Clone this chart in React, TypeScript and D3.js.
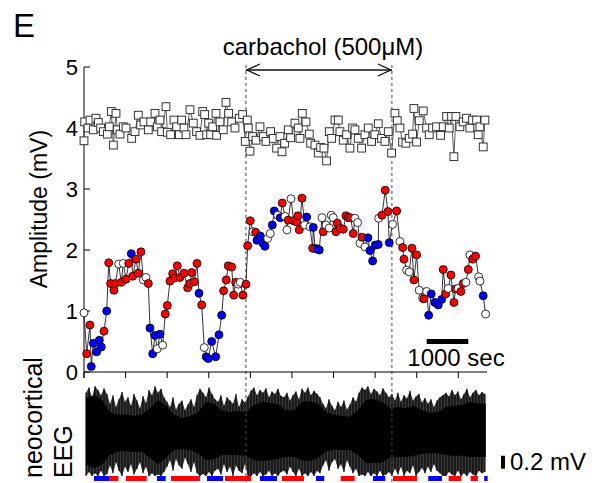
import React from "react";
import * as d3 from "d3";

// ---- Data ----
const circleT = [0,65,144,175,224,305,368,416,481,546,594,642,721,752,834,897,945,1010,1075,1137,1171,1250,1305,1370,1426,1490,1546,1587,1652,1707,1762,1827,1892,1954,2003,2067,2132,2180,2243,2308,2404,2493,2541,2589,2652,2717,2765,2830,2892,2940,2988,3070,3166,3245,3310,3358,3421,3469,3551,3599,3647,3709,3757,3822,3894,3935,3998,4063,4128,4159,4238,4303,4351,4416,4479,4527,4575,4657,4719,4767,4832,4880,4911,4976,5041,5113,5145,5176,5241,5306,5354,5433,5498,5513,5561,5609,5657,5722,5753,5818,5897,5945,5993,6058,6089,6154,6234,6298,6354,6411,6474,6515,6580,6635,6683,6755,6827,6875,6940,7003,7075,7085,7164,7243,7308,7340,7421,7517,7597,7662,7693,7758,7820,7885,7933,7998,8060,8142,8174,8239,8287,8349,8438,8518,8599,8638,8696,8758,8823,8895,8936,8998,9063,9118,9183,9239,9279,9344,9416,9488,9520,9599,9657];
const circleV = [0.97,0.30,0.77,0.09,0.47,0.33,0.52,0.41,0.67,1.00,1.79,1.45,1.34,1.45,1.77,1.47,1.78,1.52,1.78,1.94,1.57,1.85,1.62,1.97,1.51,1.55,1.45,0.72,0.30,0.60,0.38,0.62,0.44,0.95,1.09,1.49,1.61,1.54,1.74,1.55,1.62,1.38,1.45,1.63,1.48,1.78,1.29,1.10,0.40,0.25,0.22,0.50,0.25,0.61,0.93,1.33,1.51,1.74,1.72,1.26,1.47,1.44,1.47,1.26,1.44,2.07,2.48,2.30,2.29,2.16,2.23,2.11,2.06,2.19,2.27,2.41,2.64,2.57,2.53,2.77,2.55,2.33,2.49,2.84,2.48,2.46,2.56,2.33,2.85,2.41,2.54,2.38,2.03,2.37,2.02,2.02,2.00,2.53,2.30,2.41,2.36,2.57,2.53,2.30,2.44,2.36,2.34,2.56,2.53,2.53,2.27,2.52,2.45,2.11,2.21,2.05,2.20,1.99,1.82,2.08,2.09,2.52,2.57,2.98,2.63,2.12,2.42,2.64,2.14,2.04,1.85,1.67,1.64,2.03,1.51,1.92,1.34,1.21,1.20,1.32,0.93,1.28,1.14,1.10,1.19,1.68,1.28,1.37,1.59,1.14,1.36,1.37,1.32,1.45,1.47,1.68,1.92,1.85,1.90,1.56,1.49,1.25,0.95];
const circleState = "wrrbbbbbrbrrrrwrwrrbrrrrwwrbbbwbwrrrrrrrrrrrrrbrwbbbbbbrrrrrrwwrrrrwrbbbbwwbbwbrwwrwrrrrrwbwrbrbbwrwwwwrrrrrrrrwwwrwbbbbbwrrrbwrwrrwwrrrwwrwbbbbbrrwrrrwrrwrwrrwwbw";

const squareT = [0,16,96,144,224,288,345,401,465,561,609,657,705,769,801,865,946,1010,1146,1226,1306,1362,1442,1547,1603,1707,1763,1827,1867,1971,2003,2083,2164,2228,2292,2348,2404,2452,2548,2628,2708,2789,2853,2901,2949,2997,3045,3093,3173,3189,3269,3349,3414,3478,3550,3630,3734,3814,3878,3926,3950,3990,4055,4135,4231,4311,4375,4487,4551,4632,4712,4760,4824,4912,4968,5072,5152,5192,5249,5337,5417,5449,5553,5633,5689,5769,5833,5898,5954,6034,6114,6154,6234,6314,6394,6458,6515,6595,6675,6755,6835,6915,6995,7075,7155,7236,7316,7396,7476,7532,7596,7660,7740,7821,7901,7933,7997,8061,8157,8237,8301,8381,8477,8574,8638,8718,8782,8838,8894,8942,9038,9118,9198,9278,9342,9439,9479,9519,9599,9639];
const squareV = [3.79,4.10,4.00,4.13,3.97,4.16,4.09,4.00,3.94,3.90,4.02,4.27,3.72,4.24,3.97,3.90,4.02,4.00,3.83,3.94,4.21,4.05,4.10,3.97,4.10,4.24,4.02,4.13,3.94,4.35,3.93,3.89,4.13,4.02,3.89,4.13,4.00,3.89,4.30,4.08,3.94,3.88,4.27,4.22,3.89,4.08,3.89,4.02,4.24,3.88,4.10,3.97,4.42,4.24,4.10,4.00,4.16,4.22,3.78,4.13,4.00,3.62,3.86,3.80,4.02,3.86,3.78,3.94,3.83,3.67,3.86,3.61,3.75,3.97,3.84,4.08,4.00,3.83,4.24,4.10,3.90,3.75,3.72,3.59,3.68,3.67,3.46,3.94,3.83,4.13,4.13,3.94,3.80,3.89,3.67,4.00,3.97,3.83,3.67,3.89,4.00,3.78,3.89,4.07,3.83,3.78,3.94,3.59,4.24,4.12,4.00,3.77,3.75,3.83,3.90,4.32,3.77,4.12,4.28,4.00,3.89,4.00,4.02,3.88,4.02,4.19,4.00,4.19,3.53,4.19,4.02,4.10,4.16,4.00,4.13,4.13,3.89,4.02,3.69,4.13];

// EEG dense core envelope (mV relative to baseline)
const eegT = [50,240,430,620,820,1010,1200,1390,1590,1780,1970,2160,2360,2550,2740,2930,3130,3320,3510,3700,3890,4090,4280,4470,4660,4860,5050,5240,5430,5630,5820,6010,6200,6400,6590,6780,6970,7160,7360,7550,7740,7930,8130,8320,8510,8700,8900,9090,9280,9470,9660];
const eegCoreHi = [0.54,0.58,0.51,0.32,0.28,0.29,0.26,0.29,0.38,0.51,0.42,0.28,0.23,0.26,0.32,0.48,0.45,0.35,0.32,0.34,0.32,0.43,0.48,0.46,0.45,0.35,0.35,0.48,0.49,0.45,0.32,0.28,0.26,0.25,0.35,0.51,0.52,0.48,0.38,0.40,0.38,0.42,0.35,0.31,0.32,0.40,0.42,0.43,0.48,0.45,0.45];
const eegCoreLo = [-0.49,-0.54,-0.49,-0.34,-0.29,-0.28,-0.29,-0.29,-0.38,-0.48,-0.38,-0.26,-0.25,-0.26,-0.31,-0.42,-0.40,-0.34,-0.34,-0.34,-0.35,-0.42,-0.43,-0.42,-0.40,-0.37,-0.37,-0.42,-0.43,-0.38,-0.28,-0.26,-0.26,-0.26,-0.34,-0.46,-0.46,-0.45,-0.38,-0.37,-0.37,-0.35,-0.32,-0.31,-0.31,-0.34,-0.35,-0.35,-0.37,-0.37,-0.37];

// EEG spike extents (mV)
const spikeT = [48,120,192,264,337,409,481,553,625,697,769,841,914,986,1058,1130,1202,1274,1346,1418,1491,1563,1635,1707,1779,1851,1923,1995,2068,2140,2212,2284,2356,2428,2500,2572,2645,2717,2789,2861,2933,3005,3077,3149,3222,3294,3366,3438,3510,3582,3654,3726,3799,3871,3943,4015,4087,4159,4231,4303,4376,4448,4520,4592,4664,4736,4808,4880,4953,5025,5097,5169,5241,5313,5385,5457,5530,5602,5674,5746,5818,5890,5962,6034,6107,6179,6251,6323,6395,6467,6539,6611,6684,6756,6828,6900,6972,7044,7116,7188,7261,7333,7405,7477,7549,7621,7693,7765,7838,7910,7982,8054,8126,8198,8270,8342,8415,8487,8559,8631,8703,8775,8847,8919,8992,9064,9136,9208,9280,9352,9424,9496,9569,9641];
const spikeHi = [0.62,0.70,0.55,0.72,0.66,0.58,0.69,0.60,0.45,0.58,0.40,0.52,0.63,0.48,0.55,0.42,0.60,0.50,0.38,0.57,0.46,0.66,0.58,0.72,0.62,0.68,0.55,0.48,0.40,0.55,0.36,0.45,0.50,0.35,0.44,0.52,0.40,0.58,0.68,0.62,0.55,0.70,0.60,0.52,0.48,0.58,0.42,0.55,0.50,0.45,0.60,0.40,0.52,0.47,0.56,0.65,0.70,0.58,0.66,0.62,0.69,0.55,0.64,0.60,0.68,0.57,0.55,0.62,0.50,0.58,0.64,0.52,0.68,0.62,0.70,0.58,0.65,0.60,0.55,0.45,0.38,0.52,0.42,0.35,0.48,0.40,0.50,0.36,0.44,0.55,0.48,0.62,0.70,0.66,0.72,0.60,0.68,0.64,0.58,0.69,0.62,0.55,0.60,0.50,0.62,0.48,0.58,0.53,0.65,0.50,0.56,0.60,0.47,0.54,0.45,0.52,0.40,0.50,0.55,0.58,0.62,0.56,0.66,0.58,0.64,0.52,0.60,0.68,0.55,0.62,0.66,0.58,0.63,0.60];
const spikeLo = [-0.66,-0.60,-0.66,-0.62,-0.66,-0.58,-0.66,-0.63,-0.50,-0.62,-0.45,-0.58,-0.66,-0.52,-0.60,-0.48,-0.64,-0.55,-0.45,-0.62,-0.52,-0.66,-0.62,-0.66,-0.64,-0.66,-0.60,-0.52,-0.42,-0.58,-0.40,-0.50,-0.55,-0.38,-0.48,-0.60,-0.45,-0.62,-0.66,-0.63,-0.66,-0.60,-0.66,-0.58,-0.55,-0.64,-0.48,-0.60,-0.52,-0.66,-0.50,-0.58,-0.62,-0.48,-0.66,-0.66,-0.62,-0.66,-0.60,-0.66,-0.64,-0.58,-0.66,-0.62,-0.66,-0.60,-0.58,-0.64,-0.52,-0.60,-0.66,-0.55,-0.66,-0.62,-0.66,-0.60,-0.66,-0.58,-0.62,-0.50,-0.42,-0.58,-0.45,-0.40,-0.55,-0.48,-0.60,-0.42,-0.52,-0.62,-0.55,-0.66,-0.64,-0.66,-0.60,-0.66,-0.62,-0.66,-0.58,-0.66,-0.64,-0.60,-0.66,-0.55,-0.64,-0.52,-0.66,-0.58,-0.62,-0.50,-0.66,-0.60,-0.54,-0.62,-0.52,-0.60,-0.48,-0.58,-0.62,-0.66,-0.66,-0.60,-0.64,-0.66,-0.58,-0.66,-0.62,-0.66,-0.60,-0.64,-0.66,-0.58,-0.62,-0.60];

// State bars under EEG
const stateStart = [240,601,1010,1755,2092,2957,3390,4231,4760,5577,6171,6948,7429,8277,8767,9296,9623];
const stateEnd = [601,825,1507,1964,2789,3342,4015,4640,5289,5777,6508,7243,8006,8606,9070,9472,9705];
const stateKind = ["b","r","r","b","r","b","r","b","r","b","r","b","r","b","r","r","b"];

const yTicks = [0, 1, 2, 3, 4, 5];
const xTicks = [0, 1000, 2000, 3000, 4000, 5000, 6000, 7000, 8000, 9000];
const drugOn = 3894;
const drugOff = 7404;
const drugLabel = "carbachol (500\u03BCM)";
const timeBar = 1000;
const eegBar = 0.2;

const FONT = "'Liberation Sans', Arial, Helvetica, sans-serif";
const COLORS: Record<string, string> = { w: "#ffffff", r: "#ff0000", b: "#0000ff" };

export default function App() {
  const x = d3.scaleLinear().domain([0, 9690]).range([84, 487]);
  const y = d3.scaleLinear().domain([0, 5]).range([372, 67]);
  const ey = d3.scaleLinear().domain([-1, 1]).range([498, 368]);

  const circles = circleT.map((t, i) => ({ t, v: circleV[i], c: circleState[i] }));
  const squares = squareT.map((t, i) => ({ t, v: squareV[i] }));
  const eeg = eegT.map((t, i) => ({ t, ch: eegCoreHi[i], cl: eegCoreLo[i] }));
  const spikes = spikeT.map((t, i) => ({ t, h: spikeHi[i], l: spikeLo[i] }));

  const line = d3.line<{ t: number; v: number }>().x(d => x(d.t)).y(d => y(d.v));
  const coreArea = d3.area<any>().x(d => x(d.t)).y0(d => ey(d.cl)).y1(d => ey(d.ch));
  const spikeArea = d3.area<any>().x(d => x(d.t)).y0(d => ey(d.l)).y1(d => ey(d.h));

  const sq = 7.8;
  const ax = 84;
  const x0 = x(drugOn), x1 = x(drugOff);
  const ay = 70;

  return (
    <svg width={606} height={483} style={{ position: "absolute", left: 0, top: 0, background: "#fff" }} fontFamily={FONT}>
      <text x={13} y={37} fontSize={33} fill="#000">E</text>

      {/* EEG */}
      <path d={spikeArea(spikes) || ""} fill="#3a3a3a" />
      {spikes.map((d, i) => (
        <line key={i} x1={x(d.t)} x2={x(d.t)} y1={ey(d.l)} y2={ey(d.h)} stroke="#000" strokeWidth={1.1} />
      ))}
      <path d={coreArea(eeg) || ""} fill="#000" />
      {stateStart.map((s, i) => (
        <rect key={i} x={x(s)} y={476} width={x(stateEnd[i]) - x(s)} height={5} fill={COLORS[stateKind[i]]} />
      ))}
      <rect x={501} y={ey(-0.35)} width={4} height={ey(0) - ey(eegBar)} fill="#000" />
      <text x={510} y={470} fontSize={24}>0.2 mV</text>
      <text transform={`translate(42,478) rotate(-90)`} fontSize={25}>neocortical</text>
      <text transform={`translate(72,478) rotate(-90)`} fontSize={25}>EEG</text>

      {/* drug lines */}
      <line x1={x0} x2={x0} y1={65} y2={483} stroke="#444" strokeWidth={1} strokeDasharray="3,3" />
      <line x1={x1} x2={x1} y1={65} y2={483} stroke="#444" strokeWidth={1} strokeDasharray="3,3" />
      <line x1={x0} x2={x1} y1={ay} y2={ay} stroke="#111" strokeWidth={1.3} />
      <path d={`M${x0 + 14},${ay - 6} L${x0 + 1},${ay} L${x0 + 14},${ay + 6}`} fill="none" stroke="#111" strokeWidth={1.3} />
      <path d={`M${x1 - 14},${ay - 6} L${x1 - 1},${ay} L${x1 - 14},${ay + 6}`} fill="none" stroke="#111" strokeWidth={1.3} />
      <text x={323} y={55} fontSize={24} textAnchor="middle" fill="#000">{drugLabel}</text>

      {/* axes */}
      <line x1={ax} x2={ax} y1={y(5)} y2={378} stroke="#000" strokeWidth={1} />
      <line x1={ax} x2={x(9690)} y1={y(0)} y2={y(0)} stroke="#000" strokeWidth={1} />
      {yTicks.map(v => (
        <g key={v}>
          <line x1={ax} x2={ax + 6} y1={y(v)} y2={y(v)} stroke="#000" strokeWidth={1} />
          <text x={78} y={y(v)} dy="0.36em" fontSize={22} textAnchor="end">{v}</text>
        </g>
      ))}
      {xTicks.map(t => (
        <line key={t} x1={x(t)} x2={x(t)} y1={y(0)} y2={y(0) + 6} stroke="#000" strokeWidth={1} />
      ))}
      <text transform={`translate(47,${y(2.67)}) rotate(-90)`} fontSize={23} textAnchor="middle">Amplitude (mV)</text>

      {/* squares */}
      <path d={line(squares) || ""} fill="none" stroke="#333" strokeWidth={0.8} />
      {squares.map((d, i) => (
        <rect key={i} x={x(d.t) - sq / 2} y={y(d.v) - sq / 2} width={sq} height={sq} fill="#fff" stroke="#333" strokeWidth={1} />
      ))}

      {/* circles */}
      <path d={line(circles) || ""} fill="none" stroke="#000" strokeWidth={0.8} />
      {circles.map((d, i) => (
        <circle key={i} cx={x(d.t)} cy={y(d.v)} r={4} fill={COLORS[d.c]} stroke="#000" strokeWidth={0.8} />
      ))}

      {/* time scale bar */}
      <rect x={x(8000) + 10} y={339} width={x(timeBar) - x(0)} height={5} fill="#000" />
      <text x={456} y={366} fontSize={24} textAnchor="middle">1000 sec</text>
    </svg>
  );
}
